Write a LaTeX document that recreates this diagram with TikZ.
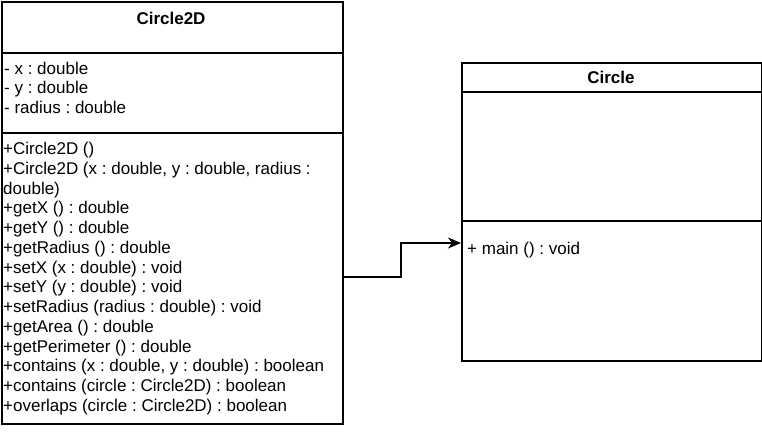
\documentclass[tikz,border=0pt]{standalone}
\usepackage{fontspec}
\setmainfont{Liberation Sans}
\frenchspacing
\usetikzlibrary{arrows.meta}
\tikzset{
  box/.style={draw=black, line width=1.5pt, inner sep=0pt, anchor=north west},
  txt/.style={inner sep=0pt, anchor=base west, font=\fontsize{17}{20}\selectfont},
  ttl/.style={inner sep=0pt, anchor=base, font=\bfseries\fontsize{17}{20}\selectfont},
  conn/.style={draw=black, line width=1.5pt, -{Stealth[length=13pt,width=11pt,inset=4pt]}}
}
\begin{document}
\begin{tikzpicture}[x=1pt,y=-1pt]
\path[fill=white] (0,0) rectangle (762,432);
\useasboundingbox (0,0) rectangle (762,432);
% Circle2D class
\node[box, minimum width=341pt, minimum height=51pt] (c2dh) at (1,1) {};
\node[box, minimum width=341pt, minimum height=80pt] (c2da) at (1,52) {};
\node[box, minimum width=341pt, minimum height=291pt] (c2dm) at (1,132) {};
\node[ttl] (c2dt) at (171,24.5) {Circle2D};
\foreach \t [count=\i from 0] in {- x : double, - y : double, - radius : double}
  \node[txt] (attr\i) at (4,74+19.7*\i) {\t};
\foreach \t [count=\i from 0] in {
  +Circle2D (),
  {+Circle2D (x : double, y : double, radius :},
  double),
  +getX () : double,
  +getY () : double,
  +getRadius () : double,
  +setX (x : double) : void,
  +setY (y : double) : void,
  +setRadius (radius : double) : void,
  +getArea () : double,
  +getPerimeter () : double,
  {+contains (x : double, y : double) : boolean},
  +contains (circle : Circle2D) : boolean,
  +overlaps (circle : Circle2D) : boolean}
  \node[txt] (meth\i) at (3,154.5+19.75*\i) {\t};
% Circle class
\node[box, minimum width=300pt, minimum height=29pt] (cirh) at (461,62) {};
\node[box, minimum width=300pt, minimum height=129pt] (cira) at (461,91) {};
\node[box, minimum width=300pt, minimum height=140pt] (cirm) at (461,220) {};
\node[ttl] (cirt) at (611,83) {Circle};
\node[txt] (main) at (467,254) {+ main () : void};
% connector
\coordinate (src) at (c2dm.east |- 0,277);
\coordinate (bend) at (401,277);
\draw[conn] (src) -- (bend) |- (cirm.west |- 0,243);
\end{tikzpicture}
\end{document}
